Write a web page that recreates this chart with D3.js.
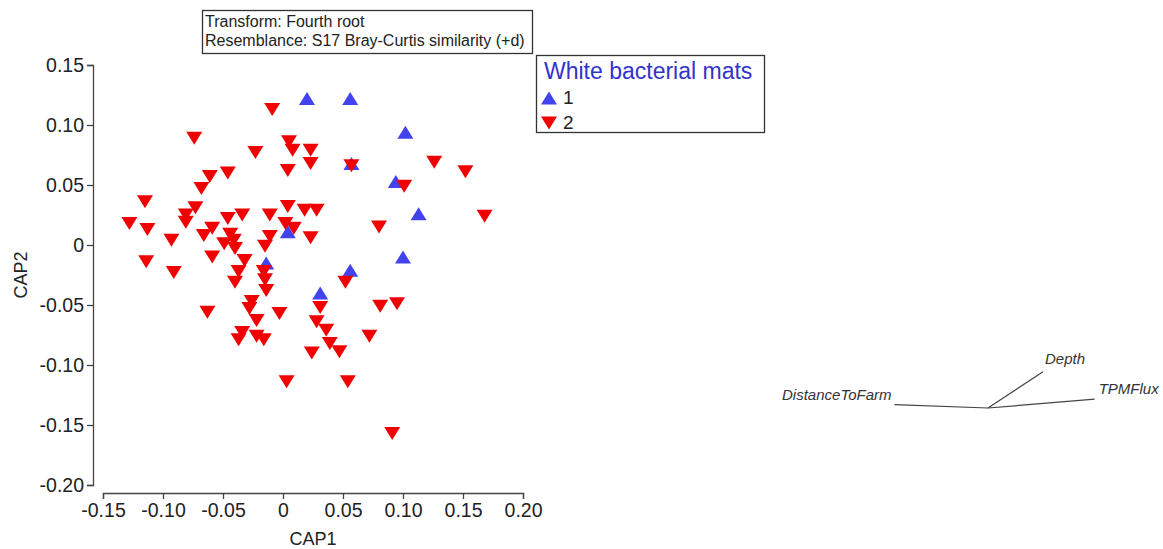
<!DOCTYPE html>
<html>
<head>
<meta charset="utf-8">
<script src="https://cdn.jsdelivr.net/npm/d3@7/dist/d3.min.js"></script>
<style>
  body { margin: 0; background: #fff; }
  svg { font-family: "Liberation Sans", Arial, sans-serif; }
</style>
</head>
<body>
<svg id="chart" width="1163" height="549"></svg>
<script>
// CAP scores, group 1 (up triangles)
var group1 = [
  [0.020, 0.122], [0.056, 0.122], [0.102, 0.094], [0.057, 0.068],
  [0.094, 0.053], [0.113, 0.026], [0.004, 0.011], [-0.014, -0.015],
  [0.056, -0.021], [0.100, -0.010], [0.031, -0.040]
];

// CAP scores, group 2 (down triangles)
var group2 = [
  [-0.009, 0.113], [-0.074, 0.089], [0.005, 0.086], [0.008, 0.079],
  [-0.023, 0.077], [0.023, 0.079], [0.023, 0.068], [0.004, 0.062],
  [0.057, 0.066], [0.126, 0.069], [0.152, 0.061], [0.101, 0.049],
  [0.168, 0.024], [0.080, 0.015], [-0.046, 0.060], [-0.061, 0.057],
  [-0.068, 0.047], [-0.115, 0.036], [-0.073, 0.031], [-0.081, 0.025],
  [-0.046, 0.022], [-0.034, 0.025], [-0.011, 0.025], [0.004, 0.032],
  [0.018, 0.029], [0.028, 0.029], [-0.128, 0.018], [-0.113, 0.013],
  [-0.081, 0.019], [-0.059, 0.014], [0.002, 0.018], [0.009, 0.014],
  [-0.093, 0.004], [-0.066, 0.008], [-0.044, 0.009], [-0.041, 0.004],
  [-0.049, 0.001], [-0.040, -0.003], [-0.011, 0.007], [-0.015, -0.001],
  [0.023, 0.006], [-0.114, -0.014], [-0.091, -0.023], [-0.059, -0.010],
  [-0.032, -0.013], [-0.037, -0.022], [-0.040, -0.031], [-0.016, -0.022],
  [-0.015, -0.029], [-0.014, -0.038], [-0.026, -0.047], [-0.028, -0.053],
  [-0.022, -0.063], [-0.003, -0.057], [-0.063, -0.056], [-0.034, -0.073],
  [-0.037, -0.079], [-0.022, -0.076], [-0.016, -0.079], [0.024, -0.090],
  [0.028, -0.064], [0.031, -0.052], [0.036, -0.071], [0.039, -0.082],
  [0.047, -0.089], [0.052, -0.031], [0.072, -0.076], [0.081, -0.051],
  [0.095, -0.049], [0.003, -0.114], [0.054, -0.114], [0.091, -0.157]
];

var xTicks = [-0.15, -0.10, -0.05, 0, 0.05, 0.10, 0.15, 0.20];
var xTickLabels = ["-0.15", "-0.10", "-0.05", "0", "0.05", "0.10", "0.15", "0.20"];
var yTicks = [0.15, 0.10, 0.05, 0, -0.05, -0.10, -0.15, -0.20];
var yTickLabels = ["0.15", "0.10", "0.05", "0", "-0.05", "-0.10", "-0.15", "-0.20"];

// vector overlay (correlations)
var vectorNames = ["DistanceToFarm", "Depth", "TPMFlux"];
var vectorValues = [[-0.85, 0.03], [0.50, 0.33], [0.97, 0.08]];

var groupNames = ["1", "2"];
var legendTitle = "White bacterial mats";
var infoLines = ["Transform: Fourth root", "Resemblance: S17 Bray-Curtis similarity (+d)"];

var svg = d3.select("#chart");

var x = d3.scaleLinear().domain([-0.15, 0.20]).range([103, 523]);
var y = d3.scaleLinear().domain([-0.20, 0.15]).range([485, 65]);

var blue = "#4343ee", red = "#f00000";

// triangle path centred on cx,cy
function tri(cx, cy, up){
  var w = 8, h = 6.5;
  if(up){
    return "M" + (cx - w) + "," + (cy + h) + "L" + (cx + w) + "," + (cy + h) + "L" + cx + "," + (cy - h) + "Z";
  }
  return "M" + (cx - w) + "," + (cy - h) + "L" + (cx + w) + "," + (cy - h) + "L" + cx + "," + (cy + h) + "Z";
}

// axes
var xAxis = svg.append("g")
  .attr("transform", "translate(0,493)")
  .call(d3.axisBottom(x).tickValues(xTicks).tickSizeOuter(0).tickSize(6).tickPadding(4)
    .tickFormat(function(d, i){ return xTickLabels[i]; }));

var yAxis = svg.append("g")
  .attr("transform", "translate(93,0)")
  .call(d3.axisLeft(y).tickValues(yTicks).tickSizeOuter(0).tickSize(6).tickPadding(3)
    .tickFormat(function(d, i){ return yTickLabels[i]; }));

[xAxis, yAxis].forEach(function(a){
  a.selectAll("path, line").attr("stroke", "#444").attr("stroke-width", 1.3);
  a.selectAll("text").attr("fill", "#222").style("font-size", "19.5px");
});
yAxis.selectAll("text").attr("dy", "0.34em");

svg.append("text")
  .attr("x", 313).attr("y", 545)
  .attr("text-anchor", "middle")
  .style("font-size", "18px").attr("fill", "#222")
  .text("CAP1");

svg.append("text")
  .attr("transform", "translate(27,275) rotate(-90)")
  .attr("text-anchor", "middle")
  .style("font-size", "18px").attr("fill", "#222")
  .text("CAP2");

// points
svg.append("g").selectAll("path")
  .data(group1).enter().append("path")
  .attr("d", function(d){ return tri(x(d[0]), y(d[1]), true); })
  .attr("fill", blue);

svg.append("g").selectAll("path")
  .data(group2).enter().append("path")
  .attr("d", function(d){ return tri(x(d[0]), y(d[1]), false); })
  .attr("fill", red);

// info box
svg.append("rect")
  .attr("x", 202.5).attr("y", 10.5).attr("width", 330).attr("height", 43)
  .attr("fill", "#fff").attr("stroke", "#333").attr("stroke-width", 1.3);
svg.append("g").selectAll("text")
  .data(infoLines).enter().append("text")
  .attr("x", 205).attr("y", function(d, i){ return 27 + i * 19; })
  .style("font-size", "16px").attr("fill", "#222")
  .text(function(d){ return d; });

// legend
var lg = svg.append("g");
lg.append("rect")
  .attr("x", 536.5).attr("y", 55.5).attr("width", 228).attr("height", 77)
  .attr("fill", "#fff").attr("stroke", "#333").attr("stroke-width", 1.3);
lg.append("text")
  .attr("x", 544).attr("y", 79)
  .style("font-size", "23px").attr("fill", "#3333cc")
  .text(legendTitle);
groupNames.forEach(function(g, i){
  var cy = 98 + i * 25;
  lg.append("path").attr("d", tri(549, cy, i === 0)).attr("fill", i === 0 ? blue : red);
  lg.append("text")
    .attr("x", 563).attr("y", cy + 6)
    .style("font-size", "19px").attr("fill", "#222")
    .text(g);
});

// vector overlay
var vx = d3.scaleLinear().domain([-1, 1]).range([878, 1098]);
var vy = d3.scaleLinear().domain([-1, 1]).range([518, 298]);
var vg = svg.append("g");
vg.selectAll("line")
  .data(vectorValues).enter().append("line")
  .attr("x1", vx(0)).attr("y1", vy(0))
  .attr("x2", function(d){ return vx(d[0]); })
  .attr("y2", function(d){ return vy(d[1]); })
  .attr("stroke", "#444").attr("stroke-width", 1.2);

var labelPos = [
  { anchor: "end", dx: -3, dy: -5 },
  { anchor: "start", dx: 2, dy: -8 },
  { anchor: "start", dx: 4, dy: -5 }
];
vg.selectAll("text")
  .data(vectorValues).enter().append("text")
  .attr("x", function(d, i){ return vx(d[0]) + labelPos[i].dx; })
  .attr("y", function(d, i){ return vy(d[1]) + labelPos[i].dy; })
  .attr("text-anchor", function(d, i){ return labelPos[i].anchor; })
  .style("font-size", "15px").style("font-style", "italic").attr("fill", "#333")
  .text(function(d, i){ return vectorNames[i]; });
</script>
</body>
</html>
